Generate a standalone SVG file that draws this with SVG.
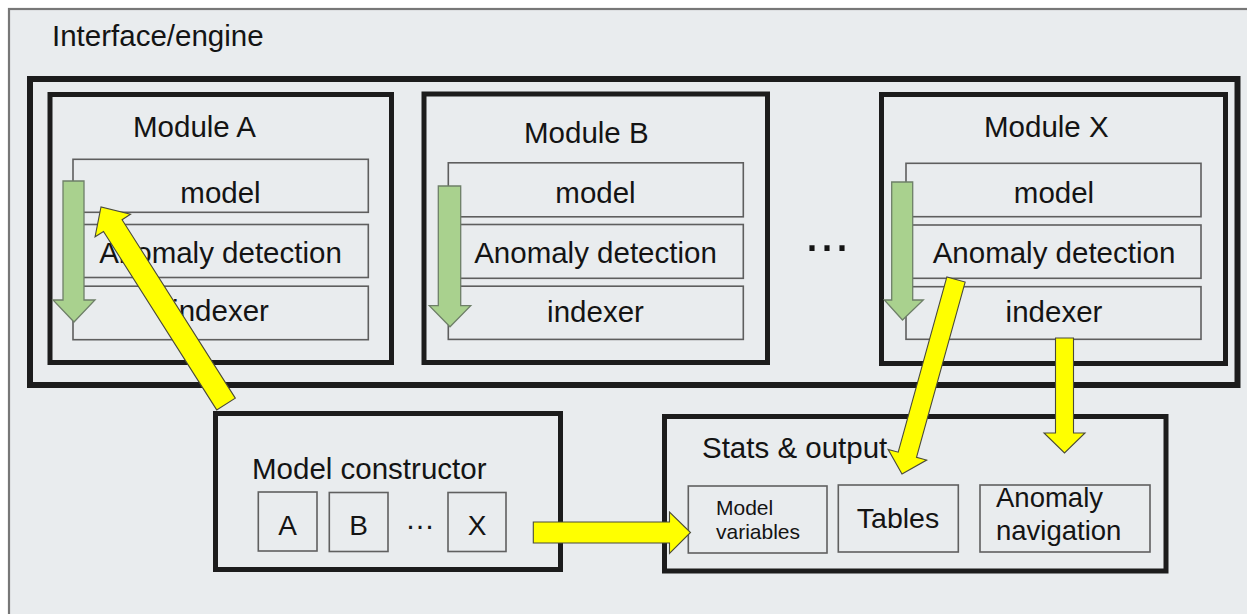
<svg xmlns="http://www.w3.org/2000/svg" width="1247" height="614" viewBox="0 0 1247 614">
  <style>
    text { font-family: "Liberation Sans", Arial, sans-serif; fill: #141414; }
    .lbl { font-size: 29.5px; }
    .mid { text-anchor: middle; }
    .frame { fill: none; stroke: #1c1c1c; stroke-width: 6; }
    .box { fill: none; stroke: #1c1c1c; stroke-width: 5; }
    .row { fill: none; stroke: #5e5e5e; stroke-width: 1.6; }
    .cell { fill: none; stroke: #606060; stroke-width: 1.6; }
    .flow { fill: #a9d18e; stroke: #6e7f68; stroke-width: 1.3; }
    .link { fill: #ffff00; stroke: #4a4a3a; stroke-width: 1.1; stroke-linejoin: miter; }
  </style>

  <!-- canvas -->
  <rect x="0" y="0" width="1247" height="614" fill="#ffffff"/>
  <g id="interface-engine">
    <rect x="9" y="9" width="1250" height="620" fill="#e9ecee" stroke="#777777" stroke-width="2.2"/>
    <text class="lbl" x="52" y="46">Interface/engine</text>
  </g>

  <!-- container holding all modules -->
  <g id="module-container">
    <rect class="frame" x="30" y="79" width="1207.5" height="306"/>
    <text x="804.5" y="250.5" style="font-size:54px">...</text>
  </g>

  <g id="module-a">
    <rect class="box" x="50" y="94.5" width="341.5" height="268"/>
    <text class="lbl" x="133" y="137">Module A</text>
    <rect class="row" x="73" y="159.3" width="295.3" height="53"/>
    <rect class="row" x="73" y="224.5" width="295.3" height="53"/>
    <rect class="row" x="73" y="286.2" width="295.3" height="53.5"/>
    <polygon class="flow" points="63,181 84,181 84,300 95,300 74,322 53,300 63,300"/>
    <text class="lbl mid" x="220.5" y="203">model</text>
    <text class="lbl mid" x="220.5" y="263">Anomaly detection</text>
    <text class="lbl mid" x="220.5" y="321">indexer</text>
  </g>

  <g id="module-b">
    <rect class="box" x="424" y="94" width="343.5" height="268.5"/>
    <text class="lbl" x="524" y="143">Module B</text>
    <rect class="row" x="448.3" y="162.8" width="295" height="54"/>
    <rect class="row" x="448.3" y="224.5" width="295" height="53.8"/>
    <rect class="row" x="448.3" y="286.2" width="295" height="53.2"/>
    <polygon class="flow" points="438.3,186 460.7,186 460.7,305.7 470.7,305.7 450,326.7 429.3,305.7 438.3,305.7"/>
    <text class="lbl mid" x="595.5" y="203">model</text>
    <text class="lbl mid" x="595.5" y="263">Anomaly detection</text>
    <text class="lbl mid" x="595.5" y="322">indexer</text>
  </g>

  <g id="module-x">
    <rect class="box" x="881.5" y="94.5" width="344" height="269"/>
    <text class="lbl" x="984" y="137">Module X</text>
    <rect class="row" x="906" y="163.3" width="295" height="53.4"/>
    <rect class="row" x="906" y="225" width="295" height="53.3"/>
    <rect class="row" x="906" y="286.7" width="295" height="52.6"/>
    <polygon class="flow" points="891.7,182 912.7,182 912.7,300 923.3,300 902.5,320 884.3,300 891.7,300"/>
    <text class="lbl mid" x="1054" y="203">model</text>
    <text class="lbl mid" x="1054" y="263">Anomaly detection</text>
    <text class="lbl mid" x="1054" y="322">indexer</text>
  </g>

  <g id="model-constructor">
    <rect class="box" x="215.5" y="413.5" width="345" height="156"/>
    <text class="lbl" x="252" y="479">Model constructor</text>
    <rect class="cell" x="258.3" y="492" width="58.7" height="59"/>
    <rect class="cell" x="329.3" y="492.5" width="58.7" height="59"/>
    <rect class="cell" x="448" y="492.5" width="58" height="59"/>
    <text class="mid" x="287.7" y="535" style="font-size:28px">A</text>
    <text class="mid" x="358.7" y="535" style="font-size:28px">B</text>
    <text x="405" y="528.5" style="font-size:30px">…</text>
    <text class="mid" x="477" y="535" style="font-size:28px">X</text>
  </g>

  <g id="stats-output">
    <rect class="box" x="664.5" y="416.5" width="501.5" height="154.5"/>
    <text class="lbl" x="702" y="458">Stats &amp; output</text>
    <rect class="cell" x="688.3" y="486" width="138.7" height="67"/>
    <text x="716" y="515" style="font-size:21px">Model</text>
    <text x="716" y="539" style="font-size:21px">variables</text>
    <rect class="cell" x="838.3" y="485" width="120" height="67"/>
    <text class="mid" x="898" y="528" style="font-size:28.5px">Tables</text>
    <rect class="cell" x="980" y="485" width="170" height="67"/>
    <text x="996" y="507" style="font-size:27.5px">Anomaly</text>
    <text x="996" y="540" style="font-size:27.5px">navigation</text>
  </g>

  <!-- block arrows between components -->
  <g id="connectors">
    <!-- model constructor -> module A model -->
    <polygon class="link" points="235.29,398.11 122.08,219.69 130.52,214.33 101,207 95.06,236.83 103.5,231.47 216.71,409.89"/>
    <!-- module X anomaly detection -> tables -->
    <polygon class="link" points="965.15,282.04 916.5,457.27 926.62,460.08 902,474 888.08,449.38 898.2,452.19 946.85,276.96"/>
    <!-- module X indexer -> anomaly navigation -->
    <polygon class="link" points="1055.5,338 1073.5,338 1073.5,433 1085,433 1064.5,453 1044,433 1055.5,433"/>
    <!-- model constructor -> model variables -->
    <polygon class="link" points="533.3,522 669.5,522 669.5,512 690.5,532.5 669.5,553.5 669.5,543 533.3,543"/>
  </g>
</svg>
